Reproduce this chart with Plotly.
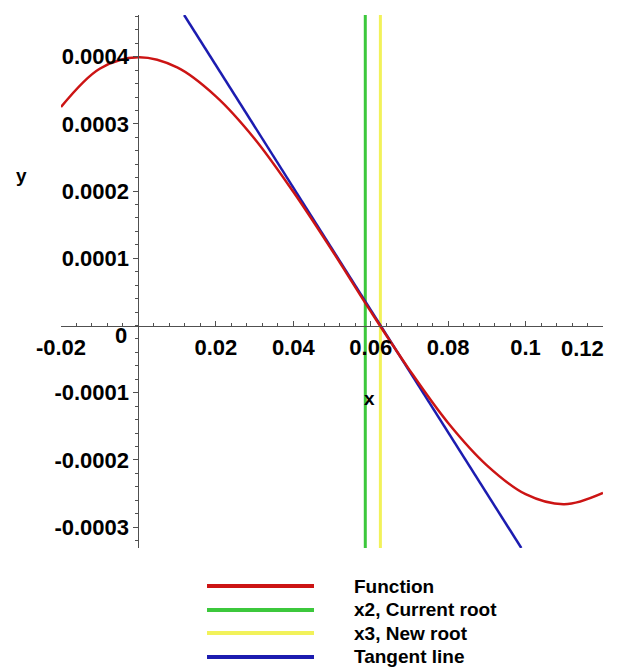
import plotly.graph_objects as go

# ---- data ----
func_x = [-0.02, -0.01, 0.0, 0.01, 0.02, 0.03, 0.04, 0.05, 0.06, 0.07, 0.08, 0.09, 0.10, 0.11, 0.12]
func_y = [3.25e-4, 3.82e-4, 3.99e-4, 3.84e-4, 3.41e-4, 2.78e-4, 1.99e-4, 1.12e-4, 2.1e-5,
          -6.6e-5, -1.45e-4, -2.08e-4, -2.51e-4, -2.66e-4, -2.49e-4]
x2_current = 0.0586
x3_new = 0.0625
tangent_x = [0.0118, 0.0989]
tangent_y = [0.000462, -0.000331]

x_range = [-0.02, 0.12]
y_range = [-0.000331, 0.000462]

x_tickvals = [-0.02, 0.02, 0.04, 0.06, 0.08, 0.1, 0.12]
x_ticktext = ["-0.02", "0.02", "0.04", "0.06", "0.08", "0.1", "0.12"]
y_tickvals = [-0.0003, -0.0002, -0.0001, 0.0001, 0.0002, 0.0003, 0.0004]
y_ticktext = ["-0.0003", "-0.0002", "-0.0001", "0.0001", "0.0002", "0.0003", "0.0004"]

series_names = ["Function", "x2, Current root", "x3, New root", "Tangent line"]
series_colors = ["#cc1414", "#3cc83c", "#f2f25a", "#1c1cb0"]

FONT = "Liberation Sans"
AX = "#505050"

# the last x label is drawn right-aligned to its tick (as in the reference)
x_ticktext_shown = list(x_ticktext[:-1]) + [""]

fig = go.Figure()
fig.add_trace(go.Scatter(x=[x2_current, x2_current], y=y_range, mode="lines",
                         line=dict(color=series_colors[1], width=3), name=series_names[1]))
fig.add_trace(go.Scatter(x=[x3_new, x3_new], y=y_range, mode="lines",
                         line=dict(color=series_colors[2], width=3), name=series_names[2]))
fig.add_trace(go.Scatter(x=tangent_x, y=tangent_y, mode="lines",
                         line=dict(color=series_colors[3], width=2.5), name=series_names[3]))
fig.add_trace(go.Scatter(x=func_x, y=func_y, mode="lines", line_shape="spline",
                         line=dict(color=series_colors[0], width=2.5), name=series_names[0]))

xpos = (0 - y_range[0]) / (y_range[1] - y_range[0])
ypos = (0 - x_range[0]) / (x_range[1] - x_range[0])

fig.update_layout(
    width=613, height=660,
    margin=dict(l=53, r=18, t=7, b=120, autoexpand=False),
    paper_bgcolor="white", plot_bgcolor="white",
    showlegend=False,
    font=dict(family=FONT, color="black"),
    xaxis=dict(range=x_range, anchor="free", position=xpos, automargin=False,
               showline=True, linecolor=AX, linewidth=1,
               showgrid=False, zeroline=False,
               tickmode="array", tickvals=x_tickvals, ticktext=x_ticktext_shown,
               ticks="inside", ticklen=5, tickcolor=AX, ticklabelstandoff=2,
               ticklabeloverflow="allow",
               minor=dict(dtick=0.004, tick0=0, ticks="inside", ticklen=3, tickcolor=AX),
               tickfont=dict(family=FONT, size=22, weight="bold", color="black")),
    yaxis=dict(range=y_range, anchor="free", position=ypos, automargin=False,
               showline=True, linecolor=AX, linewidth=1,
               showgrid=False, zeroline=False,
               tickmode="array", tickvals=y_tickvals, ticktext=y_ticktext,
               ticks="outside", ticklen=5, tickcolor=AX,
               ticklabeloverflow="allow",
               minor=dict(dtick=0.00002, tick0=0, ticks="outside", ticklen=3, tickcolor=AX),
               tickfont=dict(family=FONT, size=22, weight="bold", color="black")),
)

annotations = [
    dict(x=0, y=0, xref="x", yref="y", text="0", showarrow=False, xshift=-17, yshift=-10,
         xanchor="center", yanchor="middle",
         font=dict(family=FONT, size=22, weight="bold")),
    dict(x=x_tickvals[-1], y=0, xref="x", yref="y", text=x_ticktext[-1], showarrow=False,
         xanchor="right", yanchor="middle", xshift=3, yshift=-23,
         font=dict(family=FONT, size=22, weight="bold")),
    dict(x=-0.0738, y=0.698, xref="paper", yref="paper", text="y", showarrow=False,
         xanchor="center", yanchor="middle",
         font=dict(family=FONT, size=19, weight="bold")),
    dict(x=0.570, y=0.281, xref="paper", yref="paper", text="x", showarrow=False,
         xanchor="center", yanchor="middle",
         font=dict(family=FONT, size=19, weight="bold")),
]

# manual legend (long line samples as in the reference)
leg_y = [-0.0713, -0.1163, -0.1595, -0.2045]
shapes = []
for name, color, ly in zip(series_names, series_colors, leg_y):
    shapes.append(dict(type="line", xref="paper", yref="paper", x0=0.2694, x1=0.4668,
                       y0=ly, y1=ly, line=dict(color=color, width=4)))
    annotations.append(dict(x=0.537, y=ly, xref="paper", yref="paper", text=name,
                            showarrow=False, xanchor="left", yanchor="middle",
                            font=dict(family=FONT, size=19, weight="bold")))

fig.update_layout(annotations=annotations, shapes=shapes)
fig.write_html("out.html")
